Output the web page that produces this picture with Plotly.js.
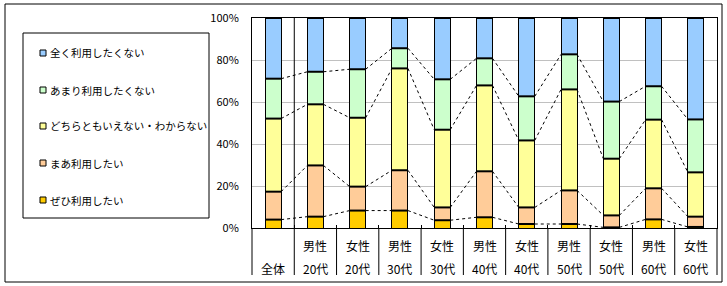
<!DOCTYPE html>
<html>
<head>
<meta charset="utf-8">
<script src="https://cdn.plot.ly/plotly-3.0.1.min.js"></script>
<style>
  body { margin: 0; background: #fff; }
  #chart { width: 727px; height: 286px; }
</style>
</head>
<body>
<div id="chart"></div>
<script>
// category labels (two rows under the axis)
var genders = ["", "男性", "女性", "男性", "女性", "男性", "女性", "男性", "女性", "男性", "女性"];
var ages = ["全体", "20代", "20代", "30代", "30代", "40代", "40代", "50代", "50代", "60代", "60代"];

// y tick labels
var yTickVals = [0, 20, 40, 60, 80, 100];
var yTickText = ["0%", "20%", "40%", "60%", "80%", "100%"];

// series, bottom to top (%)
var seriesNames = ["ぜひ利用したい", "まあ利用したい", "どちらともいえない・わからない", "あまり利用したくない", "全く利用したくない"];
var zehi    = [4.0, 5.4, 8.3, 8.3, 3.7, 5.1, 1.9, 1.9, 0.3, 4.1, 0.5];
var maa     = [13.3, 24.4, 11.4, 19.2, 6.1, 21.9, 7.9, 16.0, 5.7, 14.8, 4.9];
var dochira = [34.8, 29.1, 32.8, 48.5, 37.0, 40.9, 31.9, 48.1, 27.0, 32.7, 21.1];
var amari   = [19.0, 15.5, 23.1, 9.6, 24.0, 12.9, 21.0, 16.7, 27.2, 15.9, 25.2];
var mattaku = [28.9, 25.6, 24.4, 14.4, 29.2, 19.2, 37.3, 17.3, 39.8, 32.5, 48.3];

var colors = ["#FFCC00", "#FFCC99", "#FFFF99", "#CCFFCC", "#99CCFF"];
var allSeries = [zehi, maa, dochira, amari, mattaku];

var xs = ages.map(function (a, i) { return i; });
var barW = 0.378;
var fontFam = "Noto Sans CJK JP, sans-serif";

var data = [];
allSeries.forEach(function (vals, k) {
  data.push({
    type: "bar",
    x: xs,
    y: vals,
    width: barW,
    name: seriesNames[k],
    marker: { color: colors[k], line: { color: "#000", width: 1 } },
    hoverinfo: "skip"
  });
});

// cumulative tops for the series lines
var cum = [];
allSeries.forEach(function (vals, k) {
  cum.push(vals.map(function (v, i) { return (k > 0 ? cum[k - 1][i] : 0) + v; }));
});

for (var k = 0; k < 4; k++) {
  var lx = [], ly = [], bx = [], by = [];
  for (var i = 0; i < xs.length; i++) {
    // heavier boundary line across the bar
    bx.push(xs[i] - barW / 2, xs[i] + barW / 2, null);
    by.push(cum[k][i], cum[k][i], null);
    if (i < xs.length - 1) {
      lx.push(xs[i] + barW / 2, xs[i + 1] - barW / 2, null);
      ly.push(cum[k][i], cum[k][i + 1], null);
    }
  }
  data.push({
    type: "scatter", mode: "lines", x: lx, y: ly,
    line: { color: "#000", width: 1, dash: "3px,3px" },
    hoverinfo: "skip", showlegend: false
  });
  data.push({
    type: "scatter", mode: "lines", x: bx, y: by,
    line: { color: "#000", width: 2 },
    hoverinfo: "skip", showlegend: false
  });
}

// pixel -> paper helpers (plot area 252..717 x 18..228)
function px(x) { return (x - 252) / 465; }
function py(y) { return (228 - y) / 210; }

var shapes = [];
var annotations = [];

// outer frame
shapes.push({ type: "rect", xref: "paper", yref: "paper",
  x0: px(5), x1: px(722), y0: py(4), y1: py(282),
  line: { color: "#000", width: 1 } });

// left/right borders extended through the label area
[0, 1].forEach(function (p) {
  shapes.push({ type: "line", xref: "paper", yref: "paper",
    x0: p, x1: p, y0: py(275), y1: 0, line: { color: "#000", width: 1 } });
});

// category separators
for (var j = 0; j < xs.length - 1; j++) {
  shapes.push({ type: "line", xref: "x", yref: "paper",
    x0: xs[j] + 0.5, x1: xs[j] + 0.5,
    y0: py(275), y1: j === 0 ? 1 : 0,
    line: { color: "#000", width: 1 } });
}

// category labels
xs.forEach(function (x, i) {
  if (genders[i]) {
    annotations.push({ xref: "x", yref: "paper", x: x, y: py(246),
      text: genders[i], showarrow: false, xanchor: "center", yanchor: "middle",
      font: { family: fontFam, size: 12, color: "#000" } });
  }
  annotations.push({ xref: "x", yref: "paper", x: x, y: py(268),
    text: ages[i], showarrow: false, xanchor: "center", yanchor: "middle",
    font: { family: fontFam, size: 12, color: "#000" } });
});

// legend box
shapes.push({ type: "rect", xref: "paper", yref: "paper",
  x0: px(23), x1: px(209), y0: py(33), y1: py(218),
  line: { color: "#000", width: 1 }, fillcolor: "#fff" });

var legendY = [53, 90, 126, 163, 200];
for (var m = 0; m < 5; m++) {
  var k2 = 4 - m;
  var yc = legendY[m];
  shapes.push({ type: "rect", xref: "paper", yref: "paper",
    x0: px(40), x1: px(46), y0: py(yc - 3), y1: py(yc + 3),
    fillcolor: colors[k2], line: { color: "#000", width: 1 } });
  annotations.push({ xref: "paper", yref: "paper", x: px(48), y: py(yc),
    text: seriesNames[k2], showarrow: false, xanchor: "left", yanchor: "middle",
    font: { family: fontFam, size: 10.5, color: "#000" } });
}

var layout = {
  width: 727,
  height: 286,
  margin: { l: 252, r: 10, t: 18, b: 58 },
  barmode: "stack",
  showlegend: false,
  paper_bgcolor: "#fff",
  plot_bgcolor: "#fff",
  font: { family: fontFam, size: 11, color: "#000" },
  xaxis: {
    range: [-0.5, xs.length - 0.5],
    tickvals: xs.slice(0, -1).map(function (x) { return x + 0.5; }),
    showticklabels: false,
    ticks: "inside",
    ticklen: 3,
    tickcolor: "#000",
    showgrid: false,
    zeroline: false,
    showline: true,
    linecolor: "#000",
    linewidth: 1,
    mirror: true,
    fixedrange: true
  },
  yaxis: {
    range: [0, 100],
    tickvals: yTickVals,
    ticktext: yTickText,
    tickmode: "array",
    ticks: "",
    ticklabelstandoff: 10,
    showgrid: true,
    gridcolor: "#c0c0c0",
    gridwidth: 1,
    zeroline: false,
    showline: true,
    linecolor: "#000",
    linewidth: 1,
    mirror: true,
    tickfont: { family: fontFam, size: 11, color: "#000" },
    fixedrange: true
  },
  shapes: shapes,
  annotations: annotations
};

Plotly.newPlot("chart", data, layout, { displayModeBar: false, staticPlot: true });
</script>
</body>
</html>
